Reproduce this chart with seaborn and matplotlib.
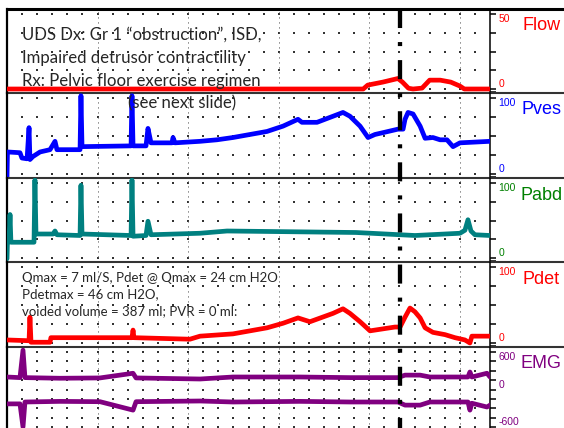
import numpy as np
import seaborn as sns
import matplotlib.pyplot as plt

# urodynamic trace, time in seconds
flow_t = [0, 236, 239, 249, 259, 262, 266, 269, 275, 280, 287, 294, 300, 303, 320]
flow = [0, 0, 2.6, 4.6, 7.0, 4.6, 0.5, 0, 0.6, 5.9, 5.9, 4.6, 2.0, 0, 0]

pves_t = [0, 0.3, 8.6, 9.9, 13.3, 14.6, 15.2, 17.2, 21.9, 28.5,
          31.8, 33.1, 48.4, 49.0, 49.7, 82.2, 82.8, 83.5, 92.1, 93.4,
          95.4, 109.3, 110.0, 111.3, 127.9, 139.1, 149.7, 161.0, 172.3, 182.9,
          192.8, 195.4, 205.4, 216.0, 222.6, 227.2, 233.9, 239.2, 243.8, 250.4,
          259.0, 262.4, 263.7, 265.7, 269.0, 273.7, 277.0, 282.2, 286.9, 291.5,
          295.5, 300.1, 320]
pves = [-4, 29, 28, 21, 20, 61, 19, 23, 29, 32,
        43, 32, 32, 103, 36, 37, 103, 37, 37, 60,
        41, 41, 48, 41, 43, 45, 48, 52, 56, 63,
        72, 68, 68, 76, 81, 76, 63, 48, 52, 55,
        59, 59, 72, 81, 79, 63, 47, 48, 45, 45,
        36, 41, 43]

pabd_t = [0, 0.3, 1.3, 2.0, 2.6, 16.6, 17.9, 18.5, 19.2, 30.5,
          31.8, 33.1, 48.4, 49.0, 49.7, 82.2, 82.8, 83.5, 92.1, 93.4,
          95.4, 127.9, 145.8, 231.2, 270.3, 300.1, 303.4, 305.4, 307.4, 310.0,
          320]
pabd = [-1, 22, 22, 58, 21, 21, 21, 104, 32, 32,
        36, 31, 30, 97, 32, 30, 104, 29, 30, 49,
        31, 33, 36, 34, 30, 33, 37, 51, 36, 31,
        30]

pdet_t = [0, 14.6, 15.2, 15.9, 28.5, 29.1, 82.8, 83.5, 84.1, 121.2,
          127.9, 149.7, 161.0, 172.3, 182.9, 192.8, 200.7, 216.0, 222.6, 227.2,
          233.9, 240.5, 247.1, 257.0, 260.4, 263.7, 267.0, 270.3, 273.7, 277.0,
          282.2, 290.2, 296.8, 303.4, 306.7, 308.0, 320]
pdet = [4, 3, 34, 1, 1, 7, 7, 17, 7, 5,
        9, 12, 16, 20, 26, 33, 28, 39, 45, 39,
        28, 16, 18, 21, 21, 34, 46, 41, 33, 20,
        14, 11, 7, 4, 0, 9, 9]

emg_t = [0, 8.6, 10.6, 11.9, 35.1, 61.6, 83.5, 85.5, 127.9, 149.7,
         194.1, 227.2, 259.0, 263.7, 273.7, 280.2, 305.4, 306.7, 308.0, 318.0, 320]
emg_up = [200, 190, 630, 190, 180, 185, 260, 185, 168, 200,
          200, 190, 190, 230, 230, 200, 200, 280, 200, 260, 200]
emg_low = [-230, -230, -600, -200, -190, -195, -330, -195, -184, -200,
           -190, -200, -200, -250, -250, -200, -200, -330, -220, -280, -250]

void_t = 260.4  # dashed marker

channels = ['Flow', 'Pves', 'Pabd', 'Pdet', 'EMG']
ranges = [(0, 50), (0, 100), (0, 100), (0, 100), (-600, 600)]
tick_steps = [12.5, 25, 25, 25, 150]
line_colors = ['#ff0000', '#0000ff', '#008080', '#ff0000', '#800080']
label_colors = ['#ff0000', '#0000ff', '#008000', '#ff0000', '#800080']
traces = [[(flow_t, flow)], [(pves_t, pves)], [(pabd_t, pabd)], [(pdet_t, pdet)],
          [(emg_t, emg_up), (emg_t, emg_low)]]

notes_top = ['UDS Dx: Gr 1 \u201cobstruction\u201d, ISD,',
             'Impaired detrusor contractility',
             'Rx: Pelvic floor exercise regimen']
notes_bottom = ['Qmax = 7 ml/S, Pdet @ Qmax = 24 cm H2O',
                'Pdetmax = 46 cm H2O,',
                'voided volume = 387 ml; PVR = 0 ml:']

sns.set_style('white')
plt.rcParams['font.family'] = ['Lato', 'DejaVu Sans']
plt.rcParams['lines.scale_dashes'] = False
narrow = dict(family=['Liberation Sans', 'DejaVu Sans'], fontstretch='condensed')

W, H = 564, 428
fig = plt.figure(figsize=(W / 100, H / 100), dpi=100)
panel_px = [(9, 93), (93, 178), (178, 262), (262, 347), (347, 431)]
x0, x1 = 7, 490
ext = (W - x0) / (x1 - x0)

for i, name in enumerate(channels):
    top, bot = panel_px[i]
    ax = fig.add_axes([x0 / W, 1 - bot / H, (x1 - x0) / W, (bot - top) / H])
    ax.patch.set_alpha(0)
    lo, hi = ranges[i]
    u = (hi - lo) / (bot - top - 9)
    ax.set_xlim(0, 320)
    ax.set_ylim(lo - 4 * u, hi + 5 * u)
    ticks = np.arange(lo, hi + 1e-9, tick_steps[i])

    # dot grid + dotted minute lines
    gx, gy = np.meshgrid(np.arange(10, 320, 10), ticks)
    ax.scatter(gx.ravel(), gy.ravel(), s=1.0, marker='s', color='#333333', linewidths=0, zorder=1)
    for xm in range(60, 320, 60):
        ax.axvline(xm, color='#555555', lw=0.7, ls=(0, (0.8, 2.8)), zorder=1)

    for t, v in traces[i]:
        sns.lineplot(x=t, y=v, ax=ax, color=line_colors[i], lw=3.4,
                     estimator=None, sort=False, legend=False, zorder=3)

    ax.yaxis.tick_right()
    ax.set_yticks(ticks)
    ax.set_yticks([lo - 2.5 * u], minor=True)
    ax.set_yticklabels([])
    ax.set_xticks([])
    ax.tick_params(axis='y', which='both', direction='out', length=4, width=1.1,
                   color='black', right=True, left=False)
    ax.set_xlabel('')
    ax.set_ylabel('')
    for side in ['top', 'bottom']:
        ax.spines[side].set_visible(False)
    ax.spines['left'].set_color('black')
    ax.spines['left'].set_linewidth(1.6)
    ax.spines['right'].set_color('black')
    ax.spines['right'].set_linewidth(1.1)
    ax.plot([0, ext], [1, 1], transform=ax.transAxes, clip_on=False,
            color='black' if i == 0 else '#333333', lw=2.2 if i == 0 else 1.5)

    labels = [(hi, f'{hi:g}', 'top'), (lo, f'{lo:g}', 'bottom')]
    if lo < 0:
        labels.append((0, '0', 'bottom'))
    for val, txt, va in labels:
        ax.text(1.018, val, txt, transform=ax.get_yaxis_transform(), ha='left', va=va,
                fontsize=7.5, color=label_colors[i], **narrow)
    ax.text(1.106, 1 - 17 / (bot - top), name, transform=ax.transAxes, ha='center',
            va='center', fontsize=13, color=label_colors[i], **narrow)

# voiding marker across all channels
ov = fig.add_axes([x0 / W, 1 - 431 / H, (x1 - x0) / W, (431 - 9) / H])
ov.set_xlim(0, 320)
ov.axis('off')
ov.plot([void_t, void_t], [1, 0], transform=ov.get_xaxis_transform(), color='black',
        lw=3.1, dashes=(13.7, 10.1, 2.9, 10.1), dash_capstyle='butt')

for k, line in enumerate(notes_top):
    fig.text(22 / W, 1 - (40 + 23 * k) / H, line, fontsize=12.1, va='baseline', ha='left')
fig.text(128 / W, 1 - 108 / H, '(see next slide)', fontsize=12.1, va='baseline', ha='left')
for k, line in enumerate(notes_bottom):
    fig.text(22 / W, 1 - (282 + 16.5 * k) / H, line, fontsize=9.5, va='baseline', ha='left')

fig.savefig('out.png', dpi=100)
